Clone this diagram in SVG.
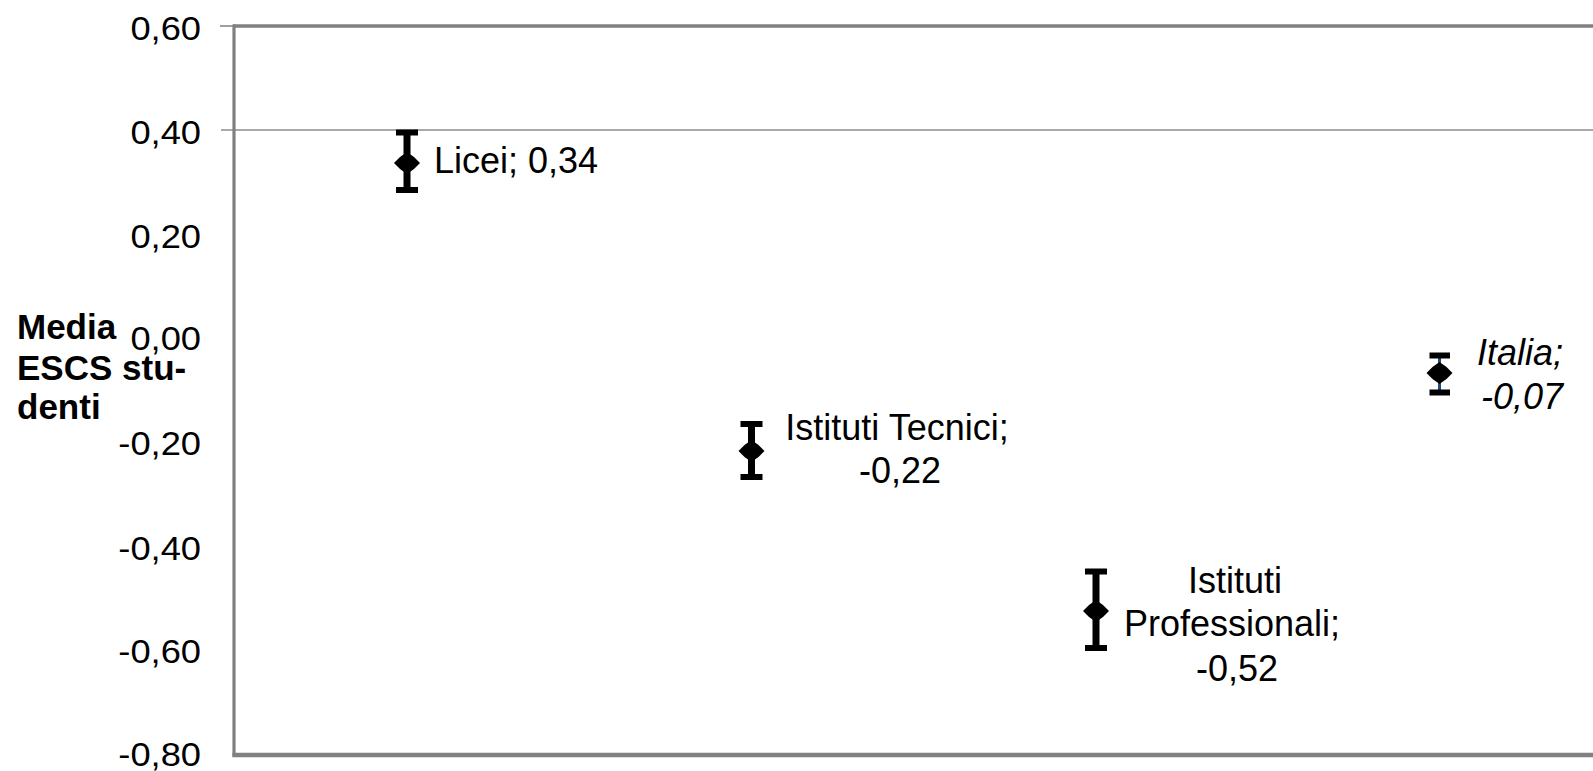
<svg xmlns="http://www.w3.org/2000/svg" width="1593" height="771" viewBox="0 0 1593 771">
<style>
.ax{font-family:"Liberation Sans",Arial,sans-serif;font-size:33px;fill:#000;text-anchor:end}
.lbl{font-family:"Liberation Sans",Arial,sans-serif;font-size:36px;fill:#000}
.ttl{font-family:"Liberation Sans",Arial,sans-serif;font-size:35px;font-weight:bold;fill:#000}
.bar{stroke:#000;stroke-width:7;fill:none}
.cap{stroke:#000;stroke-width:6;fill:none}
.frame{stroke:#808080;fill:none}
</style>
<defs>
<path id="dm" d="M-13,0 L-7,-6 L0,-11 L7,-6 L13,0 L7,6 L0,11 L-7,6 Z" fill="#000"/>
</defs>
<rect width="1593" height="771" fill="#fff"/>
<g id="axes">
<line x1="221" y1="130" x2="1593" y2="130" stroke="#555" stroke-width="1.2"/>
<line x1="220" y1="26" x2="234" y2="26" stroke="#808080" stroke-width="1.5"/>
<line x1="233" y1="26" x2="1593" y2="26" class="frame" stroke-width="3.5"/>
<line x1="234" y1="24.5" x2="234" y2="757" class="frame" stroke-width="3.2"/>
<line x1="232.5" y1="755" x2="1593" y2="755" class="frame" stroke-width="4.5"/>
</g>
<g id="ylabels" transform="translate(201,0) scale(1.1,1)">
<text class="ax" x="0" y="40">0,60</text>
<text class="ax" x="0" y="144">0,40</text>
<text class="ax" x="0" y="248">0,20</text>
<text class="ax" x="0" y="350">0,00</text>
<text class="ax" x="0" y="455">-0,20</text>
<text class="ax" x="0" y="560">-0,40</text>
<text class="ax" x="0" y="663">-0,60</text>
<text class="ax" x="0" y="766">-0,80</text>
</g>
<g id="ytitle">
<text class="ttl" x="17" y="339">Media</text>
<text class="ttl" x="17" y="380">ESCS stu-</text>
<text class="ttl" x="17" y="419">denti</text>
</g>
<g id="connectors">
<line class="bar" x1="407" y1="132.5" x2="407" y2="190"/>
<line class="cap" x1="396" y1="132.5" x2="418" y2="132.5"/>
<line class="cap" x1="396" y1="190" x2="418" y2="190"/>
<line class="bar" x1="751.5" y1="424" x2="751.5" y2="477"/>
<line class="cap" x1="740.5" y1="424" x2="762.5" y2="424"/>
<line class="cap" x1="740.5" y1="477" x2="762.5" y2="477"/>
<line class="bar" x1="1096" y1="571.5" x2="1096" y2="648"/>
<line class="cap" x1="1085" y1="571.5" x2="1107" y2="571.5"/>
<line class="cap" x1="1085" y1="648" x2="1107" y2="648"/>
<line x1="1439.5" y1="355.5" x2="1439.5" y2="392.5" stroke="#1f4e79" stroke-width="3"/>
<line class="cap" x1="1429.5" y1="355.5" x2="1450" y2="355.5"/>
<line class="cap" x1="1429.5" y1="392.5" x2="1450" y2="392.5"/>
</g>
<g id="licei">
<use href="#dm" x="407" y="163"/>
<text class="lbl" x="434" y="173">Licei; 0,34</text>
</g>
<g id="tecnici">
<use href="#dm" x="751.5" y="451"/>
<text class="lbl" x="897" y="440" text-anchor="middle">Istituti Tecnici;</text>
<text class="lbl" x="900" y="483" text-anchor="middle">-0,22</text>
</g>
<g id="professionali">
<use href="#dm" x="1096" y="611"/>
<text class="lbl" x="1235" y="593" text-anchor="middle">Istituti</text>
<text class="lbl" x="1232" y="636" text-anchor="middle">Professionali;</text>
<text class="lbl" x="1237" y="681" text-anchor="middle">-0,52</text>
</g>
<g id="italia">
<use href="#dm" x="1439.5" y="373"/>
<text class="lbl" x="1520" y="365" text-anchor="middle" font-style="italic">Italia;</text>
<text class="lbl" x="1522" y="409" text-anchor="middle" font-style="italic">-0,07</text>
</g>
</svg>
